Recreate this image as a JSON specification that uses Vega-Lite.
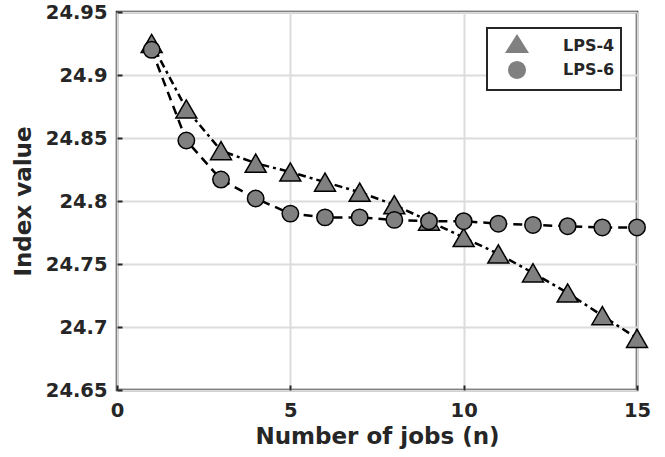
{
  "$schema": "https://vega.github.io/schema/vega-lite/v6.json",
  "width": 520,
  "height": 378,
  "autosize": {"type": "none"},
  "padding": {"left": 117, "top": 12, "right": 28, "bottom": 67},
  "background": "white",
  "config": {
    "font": "DejaVu Sans",
    "view": {"stroke": "#262626", "strokeWidth": 2.5},
    "legend": {"strokeColor": "#262626", "strokeWidth": 2, "fillColor": "white", "cornerRadius": 0},
    "axis": {
      "domain": false,
      "grid": true,
      "gridColor": "#dcdcdc",
      "gridWidth": 2,
      "ticks": true,
      "tickSize": -5,
      "tickColor": "#262626",
      "tickWidth": 2,
      "labelFlush": false,
      "labelFont": "DejaVu Sans",
      "labelFontSize": 19.5,
      "labelFontWeight": "bold",
      "labelColor": "#262626",
      "titleFont": "DejaVu Sans",
      "titleFontSize": 23,
      "titleFontWeight": "bold",
      "titleColor": "#262626"
    }
  },
  "data": {
    "values": [
      {"n": 1, "series": "LPS-4", "value": 24.925},
      {"n": 2, "series": "LPS-4", "value": 24.873},
      {"n": 3, "series": "LPS-4", "value": 24.840},
      {"n": 4, "series": "LPS-4", "value": 24.830},
      {"n": 5, "series": "LPS-4", "value": 24.823},
      {"n": 6, "series": "LPS-4", "value": 24.815},
      {"n": 7, "series": "LPS-4", "value": 24.807},
      {"n": 8, "series": "LPS-4", "value": 24.797},
      {"n": 9, "series": "LPS-4", "value": 24.784},
      {"n": 10, "series": "LPS-4", "value": 24.771},
      {"n": 11, "series": "LPS-4", "value": 24.758},
      {"n": 12, "series": "LPS-4", "value": 24.743},
      {"n": 13, "series": "LPS-4", "value": 24.727},
      {"n": 14, "series": "LPS-4", "value": 24.709},
      {"n": 15, "series": "LPS-4", "value": 24.691},
      {"n": 1, "series": "LPS-6", "value": 24.920},
      {"n": 2, "series": "LPS-6", "value": 24.848},
      {"n": 3, "series": "LPS-6", "value": 24.817},
      {"n": 4, "series": "LPS-6", "value": 24.802},
      {"n": 5, "series": "LPS-6", "value": 24.790},
      {"n": 6, "series": "LPS-6", "value": 24.787},
      {"n": 7, "series": "LPS-6", "value": 24.787},
      {"n": 8, "series": "LPS-6", "value": 24.785},
      {"n": 9, "series": "LPS-6", "value": 24.784},
      {"n": 10, "series": "LPS-6", "value": 24.784},
      {"n": 11, "series": "LPS-6", "value": 24.782},
      {"n": 12, "series": "LPS-6", "value": 24.781},
      {"n": 13, "series": "LPS-6", "value": 24.780},
      {"n": 14, "series": "LPS-6", "value": 24.779},
      {"n": 15, "series": "LPS-6", "value": 24.779}
    ]
  },
  "encoding": {
    "x": {
      "field": "n", "type": "quantitative",
      "scale": {"domain": [0, 15], "nice": false, "zero": false},
      "axis": {"values": [0, 5, 10, 15], "title": "Number of jobs (n)", "labelPadding": 16, "titlePadding": 6}
    },
    "y": {
      "field": "value", "type": "quantitative",
      "scale": {"domain": [24.65, 24.95], "nice": false, "zero": false},
      "axis": {"values": [24.65, 24.7, 24.75, 24.8, 24.85, 24.9, 24.95], "format": ".2~f", "title": "Index value", "labelPadding": 15, "titlePadding": 10}
    }
  },
  "layer": [
    {
      "transform": [{"filter": "datum.series === 'LPS-4'"}],
      "mark": {"type": "line", "color": "black", "strokeWidth": 2.5, "strokeDash": [8, 4, 3, 4]}
    },
    {
      "transform": [{"filter": "datum.series === 'LPS-4'"}],
      "mark": {"type": "point", "shape": "triangle-up", "size": 440, "filled": true, "fill": "#808080", "stroke": "black", "strokeWidth": 1.5, "opacity": 1, "fillOpacity": 1}
    },
    {
      "transform": [{"filter": "datum.series === 'LPS-6'"}],
      "mark": {"type": "line", "color": "black", "strokeWidth": 2.5, "strokeDash": [9, 6]}
    },
    {
      "transform": [{"filter": "datum.series === 'LPS-6'"}],
      "mark": {"type": "point", "shape": "circle", "size": 270, "filled": true, "fill": "#808080", "stroke": "black", "strokeWidth": 1.5, "opacity": 1, "fillOpacity": 1}
    },
    {
      "transform": [{"filter": "datum.n < 0"}],
      "mark": {"type": "point", "filled": true, "fill": "#808080", "stroke": "black", "strokeWidth": 2, "size": 484},
      "encoding": {
        "shape": {
          "field": "series", "type": "nominal",
          "scale": {"domain": ["LPS-4", "LPS-6"], "range": [
            "M-2.36,0L-1.6,0M1.6,0L2.36,0M0,-1.09L1.09,0.64L-1.09,0.64Z",
            "M-2.36,0L-1.6,0M1.6,0L2.36,0M0.82,0L0.758,0.314L0.58,0.58L0.314,0.758L0,0.82L-0.314,0.758L-0.58,0.58L-0.758,0.314L-0.82,0L-0.758,-0.314L-0.58,-0.58L-0.314,-0.758L0,-0.82L0.314,-0.758L0.58,-0.58L0.758,-0.314Z"
          ]},
          "legend": {
            "title": null,
            "orient": "top-right",
            "offset": 16,
            "padding": 6,
            "symbolSize": 484,
            "symbolOffset": 12,
            "symbolOpacity": 1,
            "symbolFillColor": "#808080",
            "symbolStrokeColor": "black",
            "symbolStrokeWidth": 2,
            "labelFont": "DejaVu Sans",
            "labelFontSize": 16,
            "labelFontWeight": "bold",
            "labelColor": "#262626",
            "labelOffset": 34,
            "rowPadding": -3
          }
        }
      }
    }
  ]
}
